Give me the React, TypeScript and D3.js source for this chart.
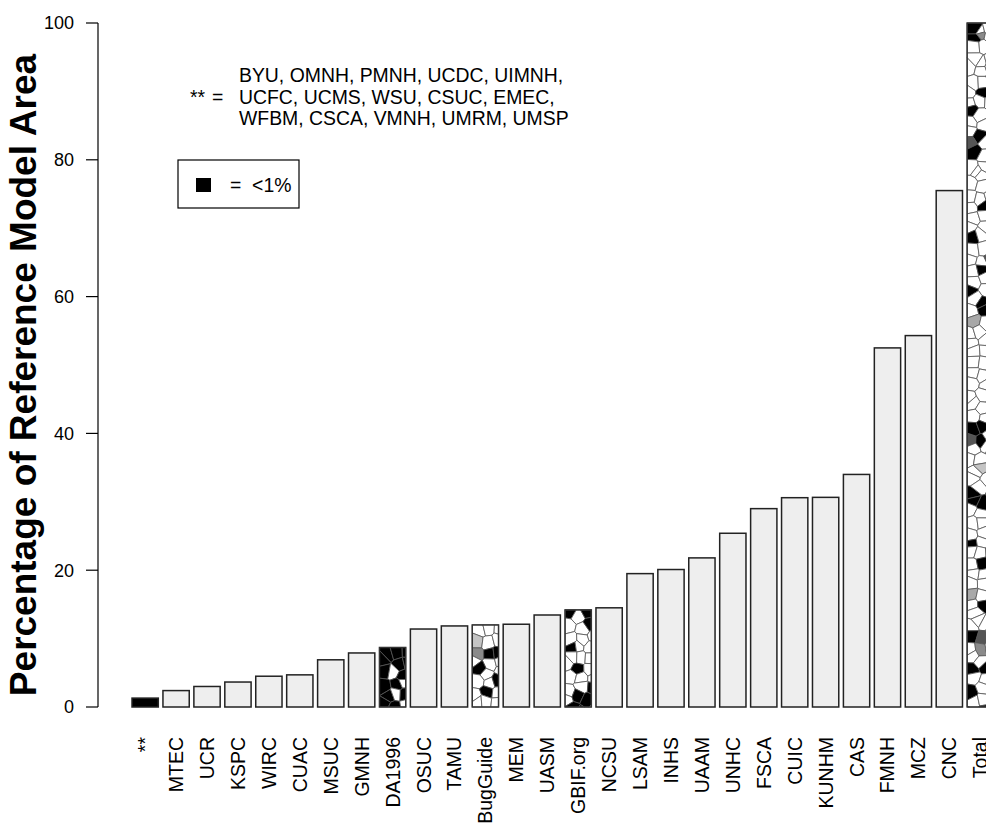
import React from 'react';
import * as d3 from 'd3';

const categories = ['**', 'MTEC', 'UCR', 'KSPC', 'WIRC', 'CUAC', 'MSUC', 'GMNH', 'DA1996', 'OSUC', 'TAMU', 'BugGuide', 'MEM', 'UASM', 'GBIF.org', 'NCSU', 'LSAM', 'INHS', 'UAAM', 'UNHC', 'FSCA', 'CUIC', 'KUNHM', 'CAS', 'FMNH', 'MCZ', 'CNC', 'Total'];
const values = [1.3, 2.4, 3.0, 3.65, 4.5, 4.7, 6.9, 7.9, 8.7, 11.4, 11.85, 12.0, 12.1, 13.45, 14.2, 14.5, 19.5, 20.1, 21.8, 25.4, 29.0, 30.6, 30.65, 34.0, 52.5, 54.3, 75.5, 100];
const yTicks = [0, 20, 40, 60, 80, 100];
const noteLines = ['BYU, OMNH, PMNH, UCDC, UIMNH,', 'UCFC, UCMS, WSU, CSUC, EMEC,', 'WFBM, CSCA, VMNH, UMRM, UMSP'];
const yLabel = 'Percentage of Reference Model Area';
const legendLabel = '=  <1%';

// texture styles for mosaic bars (black share, grey share, seed)
const mosaicStyle: Record<string, { black: number; grey: number; seed: number }> = {
  'DA1996': { black: 0.68, grey: 0.0, seed: 11 },
  'BugGuide': { black: 0.16, grey: 0.08, seed: 23 },
  'GBIF.org': { black: 0.24, grey: 0.05, seed: 37 },
  'Total': { black: 0.17, grey: 0.1, seed: 51 },
};

const W = 986;
const H = 825;

function Mosaic({ x0, y0, x1, y1, style }: { x0: number; y0: number; x1: number; y1: number; style: { black: number; grey: number; seed: number } }) {
  const rnd = d3.randomLcg(style.seed / 100);
  const cell = 10.5;
  const pts: [number, number][] = [];
  for (let y = y0 + cell / 2; y < y1 + cell / 2; y += cell) {
    for (let x = x0 + cell / 2; x < x1 + cell / 2; x += cell) {
      pts.push([x + (rnd() - 0.5) * cell * 0.8, y + (rnd() - 0.5) * cell * 0.8]);
    }
  }
  const vor = d3.Delaunay.from(pts).voronoi([x0, y0, x1, y1]);
  const greys = ['#8a8a8a', '#c4c4c4', '#555555', '#a8a8a8'];
  return (
    <g>
      {pts.map((_, i) => {
        const r = rnd();
        let fill = '#ffffff';
        if (r < style.black) fill = '#000000';
        else if (r < style.black + style.grey) fill = greys[Math.floor(rnd() * greys.length)];
        return <path key={i} d={vor.renderCell(i)} fill={fill} stroke="#555" strokeWidth={0.8} />;
      })}
    </g>
  );
}

export default function App() {
  const x = d3.scaleBand<string>().domain(categories).range([129.7, 129.7 + 28 * 30.93]).paddingInner(0.15).paddingOuter(0.075);
  const y = d3.scaleLinear().domain([0, 100]).range([707, 23]);
  const bw = x.bandwidth();
  const font = 'Liberation Sans, Arial, Helvetica, sans-serif';
  return (
    <svg width={W} height={H} style={{ position: 'absolute', left: 0, top: 0, background: '#fff' }} fontFamily={font}>
      <rect x={0} y={0} width={W} height={H} fill="#fff" />
      {/* y axis */}
      <line x1={98} x2={98} y1={y(0)} y2={y(100)} stroke="#000" strokeWidth={1.2} />
      {yTicks.map(t => (
        <g key={t}>
          <line x1={86} x2={98} y1={y(t)} y2={y(t)} stroke="#000" strokeWidth={1.2} />
          <text x={74} y={y(t)} dy="0.36em" textAnchor="end" fontSize={18}>{t}</text>
        </g>
      ))}
      <text transform={`translate(36,${(y(0) + y(100)) / 2 + 10}) rotate(-90)`} textAnchor="middle" fontSize={37} fontWeight="bold">{yLabel}</text>
      {/* bars */}
      {categories.map((c, i) => {
        const bx = x(c)!;
        const top = y(values[i]);
        const st = mosaicStyle[c];
        const fill = c === '**' ? '#000' : '#eeeeee';
        return (
          <g key={c}>
            {st ? (
              <>
                <Mosaic x0={bx} y0={top} x1={bx + bw} y1={y(0)} style={st} />
                <rect x={bx} y={top} width={bw} height={y(0) - top} fill="none" stroke="#333" strokeWidth={1.5} />
              </>
            ) : (
              <rect x={bx} y={top} width={bw} height={y(0) - top} fill={fill} stroke="#222" strokeWidth={1.5} />
            )}
            <text transform={`translate(${bx + bw / 2 + 7},737) rotate(-90)`} textAnchor="end" fontSize={19.5}>{c}</text>
          </g>
        );
      })}
      {/* annotation */}
      <text x={190} y={103.5} fontSize={19.4}>**</text>
      <text x={212} y={103.5} fontSize={19.4}>=</text>
      {noteLines.map((l, i) => (
        <text key={i} x={239} y={82 + i * 21.6} fontSize={19.4}>{l}</text>
      ))}
      {/* legend */}
      <rect x={178} y={160} width={121} height={48} fill="#fff" stroke="#000" strokeWidth={1.2} />
      <rect x={196} y={178} width={15} height={14} fill="#000" />
      <text x={230} y={192} fontSize={19.4} style={{ whiteSpace: 'pre' }}>{legendLabel}</text>
    </svg>
  );
}
